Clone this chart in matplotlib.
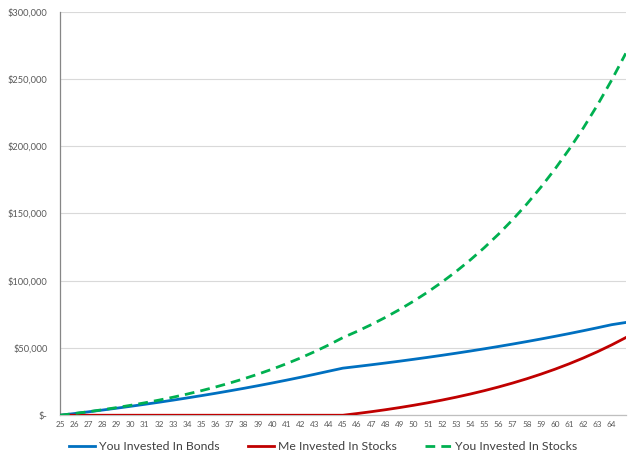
import matplotlib
matplotlib.use("Agg")
import matplotlib.pyplot as plt
from matplotlib.ticker import FuncFormatter

# ages on the category axis (last point has no label)
ages = list(range(25, 66))
tick_ages = list(range(25, 65))

# balances, in dollars
you_bonds = [0, 1240, 2530, 3860, 5230, 6660, 8140, 9660, 11240, 12880,
             14570, 16320, 18140, 20010, 21950, 23970, 26050, 28200, 30430, 32740,
             35000, 36230, 37500, 38810, 40170, 41580, 43030, 44540, 46100, 47710,
             49380, 51110, 52900, 54750, 56670, 58650, 60700, 62830, 65030, 67300,
             68950]
me_stocks = [0, 0, 0, 0, 0, 0, 0, 0, 0, 0,
             0, 0, 0, 0, 0, 0, 0, 0, 0, 0,
             0, 1260, 2620, 4090, 5680, 7400, 9250, 11250, 13410, 15750,
             18270, 20990, 23930, 27110, 30540, 34240, 38240, 42560, 47230, 52260,
             57700]
you_stocks = [0, 1260, 2620, 4090, 5680, 7400, 9250, 11250, 13410, 15750,
              18270, 20990, 23930, 27110, 30540, 34240, 38240, 42560, 47230, 52260,
              57700, 62320, 67310, 72690, 78510, 84790, 91570, 98900, 106810, 115360,
              124580, 134550, 145320, 156940, 169500, 183060, 197700, 213520, 230600, 249050,
              268970]

y_ticks = [0, 50000, 100000, 150000, 200000, 250000, 300000]

plt.rcParams['font.family'] = ['Lato', 'DejaVu Sans']

fig = plt.figure(figsize=(6.4, 4.65), dpi=100)
ax = fig.add_axes([0.09375, 0.107, 0.884, 0.868])

ax.plot(ages, you_bonds, color='#0070C0', lw=2.0, label='You Invested In Bonds', zorder=3)
ax.plot(ages, me_stocks, color='#C00000', lw=2.0, label='Me Invested In Stocks', zorder=3)
ax.plot(ages, you_stocks, color='#00B050', lw=2.0, dashes=(3.5, 2.2),
        label='You Invested In Stocks', zorder=3)

ax.set_xlim(25, 65)
ax.set_ylim(0, 300000)
ax.set_xticks(tick_ages)
ax.set_xticklabels([str(a) for a in tick_ages])
ax.set_yticks(y_ticks)
ax.yaxis.set_major_formatter(FuncFormatter(lambda v, p: '$-' if v == 0 else f'${v:,.0f}'))

ax.grid(axis='y', color='#d9d9d9', lw=0.8, zorder=0)
ax.set_axisbelow(True)
for s in ['top', 'right']:
    ax.spines[s].set_visible(False)
ax.spines['left'].set_color('#868686')
ax.spines['bottom'].set_color('#bfbfbf')
ax.spines['left'].set_linewidth(0.9)
ax.spines['bottom'].set_linewidth(0.9)

ax.tick_params(axis='y', length=0, pad=9, labelsize=6.7, labelcolor='#595959')
ax.tick_params(axis='x', length=0, pad=4, labelsize=5.9, labelcolor='#595959')

fig.legend(loc='center', bbox_to_anchor=(0.505, 0.039), ncol=3, frameon=False,
           fontsize=8.8, handlelength=2.1, columnspacing=2.3, handletextpad=0.35,
           labelcolor='#404040')

plt.savefig('out.png', dpi=100)
